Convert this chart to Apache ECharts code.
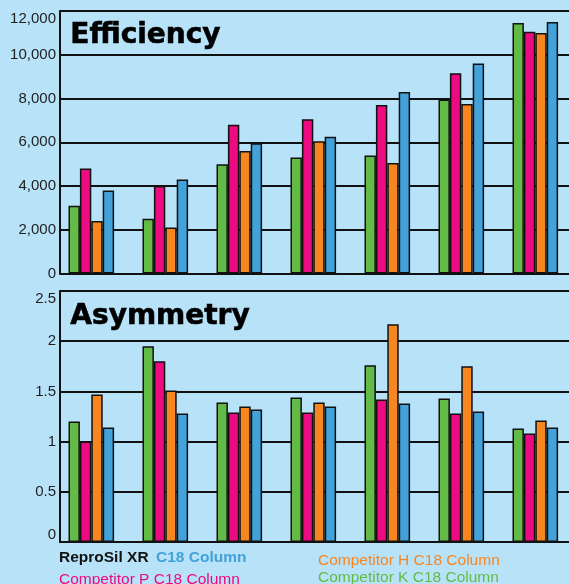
<!DOCTYPE html>
<html><head><meta charset="utf-8">
<script src="https://cdn.jsdelivr.net/npm/echarts@6/dist/echarts.min.js"></script>
<style>html,body{margin:0;padding:0;background:#b8e2f8;}#c{width:569px;height:584px;}</style>
</head><body><div id="c"></div>
<script>
// Data
const categories = ['Test 1','Test 2','Test 3','Test 4','Test 5','Test 6','Test 7'];
const seriesNames = ['Competitor K C18 Column','Competitor P C18 Column','Competitor H C18 Column','ReproSil XR C18 Column'];
const efficiencyK = [3100, 2500, 5000, 5300, 5400, 7950, 11450];
const efficiencyP = [4800, 4000, 6800, 7050, 7700, 9150, 11050];
const efficiencyH = [2400, 2100, 5600, 6050, 5050, 7750, 11000];
const efficiencyR = [3800, 4300, 5950, 6250, 8300, 9600, 11500];
const asymmetryK = [1.20, 1.95, 1.39, 1.44, 1.76, 1.43, 1.13];
const asymmetryP = [1.00, 1.80, 1.29, 1.29, 1.42, 1.28, 1.08];
const asymmetryH = [1.47, 1.51, 1.35, 1.39, 2.17, 1.75, 1.21];
const asymmetryR = [1.14, 1.28, 1.32, 1.35, 1.38, 1.30, 1.14];
const emptySlot = []; // unused fifth slot in each group
const efficiencyTicks = [0, 12000, 2000];
const asymmetryTicks = [0, 2.5, 0.5];

const colors = ['#63bb47', '#ec0b80', '#f6861f', '#42a2d9'];
const bg = '#b8e2f8';

function barSeries(name, data, color, idx) {
  return {
    type: 'bar', name: name, data: data,
    xAxisIndex: idx, yAxisIndex: idx,
    barWidth: 11.4, barGap: '0%',
    itemStyle: { color: color, borderColor: '#111', borderWidth: 1.5 },
    silent: true, animation: false
  };
}

const effSets = [efficiencyK, efficiencyP, efficiencyH, efficiencyR];
const asySets = [asymmetryK, asymmetryP, asymmetryH, asymmetryR];
const series = [];
effSets.forEach((d, i) => series.push(barSeries(seriesNames[i], d, colors[i], 0)));
series.push(barSeries('', emptySlot, 'transparent', 0));
asySets.forEach((d, i) => series.push(barSeries(seriesNames[i], d, colors[i], 1)));
series.push(barSeries('', emptySlot, 'transparent', 1));

const labelStyle = { color: '#1e1e1e', fontSize: 15, fontFamily: 'Liberation Sans, Arial, sans-serif', margin: 4 };
const lineStyle = { color: '#111', width: 2 };

function xAxis(idx) {
  return {
    type: 'category', data: categories, gridIndex: idx,
    axisLine: { show: true, lineStyle: lineStyle },
    axisTick: { show: false }, axisLabel: { show: false },
    splitLine: { show: false }
  };
}
function yAxis(idx, ticks, fmt, extra) {
  return {
    type: 'value', gridIndex: idx, min: ticks[0], max: ticks[1], interval: ticks[2],
    axisLine: { show: true, lineStyle: lineStyle },
    axisTick: { show: false },
    axisLabel: Object.assign({ formatter: fmt, verticalAlignMaxLabel: 'top' }, labelStyle, extra || {}),
    splitLine: { show: true, lineStyle: lineStyle }
  };
}

const titleFont = 'bold 28px "DejaVu Sans", sans-serif';
const legendFont = '15.5px "Liberation Sans", Arial, sans-serif';
const legendBold = 'bold 15.5px "Liberation Sans", Arial, sans-serif';

const option = {
  backgroundColor: bg,
  animation: false,
  grid: [
    { left: 60, width: 518, top: 11, height: 262.5, outerBoundsMode: 'none', containLabel: false },
    { left: 60, width: 518, top: 291, height: 251, outerBoundsMode: 'none', containLabel: false }
  ],
  xAxis: [xAxis(0), xAxis(1)],
  yAxis: [
    yAxis(0, efficiencyTicks, v => v.toLocaleString('en-US')),
    yAxis(1, asymmetryTicks, v => String(v), { verticalAlignMinLabel: 'bottom' })
  ],
  series: series,
  graphic: [
    { type: 'text', left: 70, top: 21, silent: true,
      style: { text: 'Efficiency', font: titleFont, fill: '#000', stroke: '#000', lineWidth: 0.6 } },
    { type: 'text', left: 70, top: 302, silent: true,
      style: { text: 'Asymmetry', font: titleFont, fill: '#000', stroke: '#000', lineWidth: 0.6 } },
    { type: 'text', x: 59, y: 557.5, silent: true,
      style: { text: 'ReproSil XR', font: legendBold, fill: '#111', verticalAlign: 'middle' } },
    { type: 'text', x: 156, y: 557.5, silent: true,
      style: { text: 'C18 Column', font: legendBold, fill: colors[3], verticalAlign: 'middle' } },
    { type: 'text', x: 59, y: 580, silent: true,
      style: { text: 'Competitor P C18 Column', font: legendFont, fill: colors[1], verticalAlign: 'middle' } },
    { type: 'text', x: 318, y: 561, silent: true,
      style: { text: 'Competitor H C18 Column', font: legendFont, fill: colors[2], verticalAlign: 'middle' } },
    { type: 'text', x: 318, y: 578, silent: true,
      style: { text: 'Competitor K C18 Column', font: legendFont, fill: colors[0], verticalAlign: 'middle' } }
  ]
};
const chart = echarts.init(document.getElementById('c'), null, { renderer: 'canvas' });
chart.setOption(option);
</script>
</body></html>
